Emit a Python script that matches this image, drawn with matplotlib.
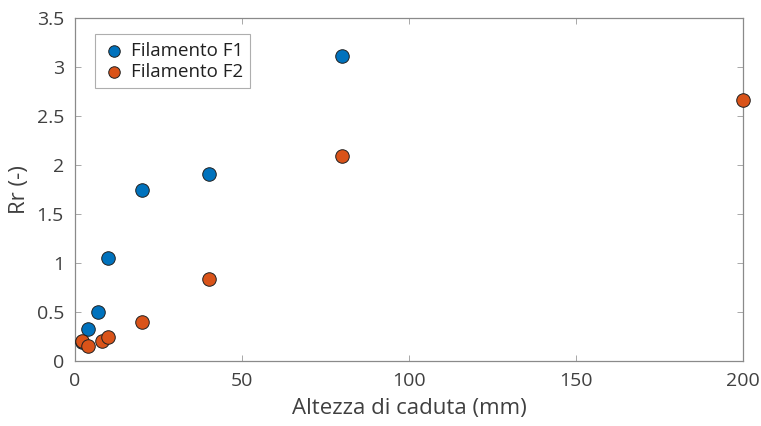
import matplotlib

matplotlib.use("Agg")

import matplotlib.pyplot as plt

# Drop height (mm) and Rr (-) for the two filaments
height_f1 = [2, 4, 7, 10, 20, 40, 80]
rr_f1 = [0.19, 0.33, 0.50, 1.05, 1.745, 1.91, 3.11]

height_f2 = [2, 4, 8, 10, 20, 40, 80, 200]
rr_f2 = [0.20, 0.155, 0.205, 0.24, 0.40, 0.84, 2.09, 2.66]

x_ticks = [0, 50, 100, 150, 200]
y_ticks = [0, 0.5, 1, 1.5, 2, 2.5, 3, 3.5]
y_tick_labels = ["0", "0.5", "1", "1.5", "2", "2.5", "3", "3.5"]

plt.rcParams["font.family"] = ["Open Sans", "DejaVu Sans"]

fig = plt.figure(figsize=(7.61, 4.26), dpi=100)
ax = fig.add_axes([0.0986, 0.1526, 0.8775, 0.805])

ax.scatter(height_f1, rr_f1, s=95, color="#0072BD", edgecolors="#202020",
           linewidths=0.7, label="Filamento F1", zorder=3, clip_on=False)
ax.scatter(height_f2, rr_f2, s=95, color="#D95319", edgecolors="#202020",
           linewidths=0.7, label="Filamento F2", zorder=3, clip_on=False)

ax.set_xlim(0, 200)
ax.set_ylim(0, 3.5)
ax.set_xticks(x_ticks)
ax.set_yticks(y_ticks)
ax.set_yticklabels(y_tick_labels)

for spine in ax.spines.values():
    spine.set_color("#8a8a8a")
    spine.set_linewidth(0.9)
ax.tick_params(direction="in", length=4, width=0.6, color="#9a9a9a",
               labelsize=14, labelcolor="#404040", top=True, right=True)
ax.tick_params(axis="x", pad=8)
ax.tick_params(axis="y", pad=8)

ax.set_xlabel("Altezza di caduta (mm)", fontsize=16, color="#404040", labelpad=6)
ax.set_ylabel("Rr (-)", fontsize=16, color="#404040", labelpad=5)

leg = ax.legend(loc="upper left", bbox_to_anchor=(0.016, 0.98), fontsize=13.5,
                frameon=True, fancybox=False, edgecolor="#9a9a9a",
                handletextpad=0.3, borderpad=0.4, labelspacing=0.15,
                handlelength=1.2, scatterpoints=1, markerscale=0.85)
leg.get_frame().set_linewidth(0.8)
for text in leg.get_texts():
    text.set_color("#202020")

fig.savefig("out.png", dpi=100, facecolor="white")
